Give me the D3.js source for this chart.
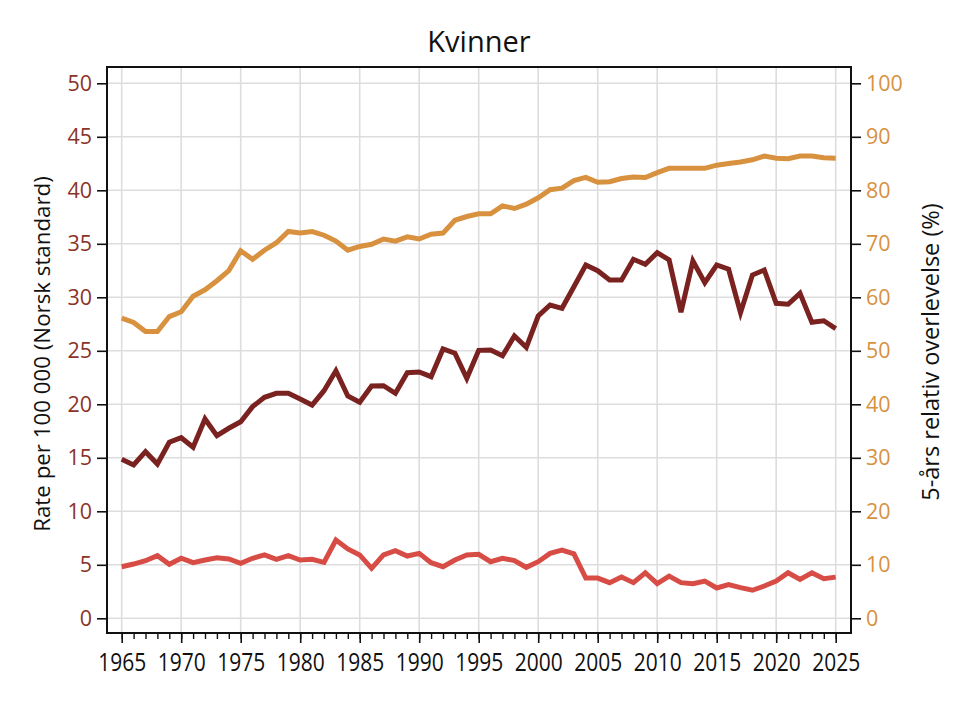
<!DOCTYPE html>
<html><head><meta charset="utf-8">
<script src="https://cdn.jsdelivr.net/npm/d3@7"></script>
<style>
body{margin:0;background:#fff;}
svg{display:block;}
</style></head>
<body><svg id="chart" width="970" height="706"></svg>
<script>
const years = [1965,1966,1967,1968,1969,1970,1971,1972,1973,1974,1975,1976,1977,1978,1979,1980,1981,1982,1983,1984,1985,1986,1987,1988,1989,1990,1991,1992,1993,1994,1995,1996,1997,1998,1999,2000,2001,2002,2003,2004,2005,2006,2007,2008,2009,2010,2011,2012,2013,2014,2015,2016,2017,2018,2019,2020,2021,2022,2023,2024,2025];
const incidence = [14.86,14.33,15.57,14.42,16.45,16.88,15.98,18.63,17.07,17.76,18.37,19.78,20.65,21.03,21.03,20.5,19.93,21.27,23.14,20.78,20.19,21.71,21.74,21.03,22.95,23.02,22.58,25.17,24.77,22.43,25.04,25.07,24.54,26.38,25.33,28.25,29.28,28.97,30.99,33.02,32.49,31.62,31.62,33.55,33.08,34.17,33.49,28.6,33.39,31.36,33.02,32.62,28.56,32.08,32.55,29.44,29.35,30.37,27.66,27.81,27.07];
const mortality = [4.82,5.07,5.38,5.85,5.05,5.61,5.2,5.45,5.66,5.55,5.14,5.61,5.92,5.51,5.85,5.45,5.51,5.23,7.32,6.48,5.92,4.67,5.92,6.32,5.82,6.07,5.2,4.82,5.45,5.92,5.98,5.29,5.61,5.4,4.76,5.29,6.07,6.38,6.02,3.76,3.76,3.33,3.85,3.33,4.26,3.24,3.94,3.33,3.24,3.48,2.83,3.15,2.87,2.62,3.02,3.48,4.26,3.64,4.26,3.7,3.85];
const survival = [56.1,55.3,53.6,53.6,56.4,57.3,60.2,61.4,63.1,65.0,68.7,67.1,68.8,70.2,72.3,72.0,72.3,71.6,70.5,68.8,69.5,69.9,70.9,70.5,71.3,70.9,71.8,72.0,74.4,75.1,75.6,75.6,77.1,76.6,77.4,78.6,80.1,80.4,81.8,82.4,81.5,81.6,82.2,82.5,82.4,83.3,84.1,84.1,84.1,84.1,84.7,85.0,85.3,85.7,86.4,86.0,85.9,86.4,86.4,86.1,86.0];
const xTicks = [1965,1970,1975,1980,1985,1990,1995,2000,2005,2010,2015,2020,2025];
const leftTicks = [0,5,10,15,20,25,30,35,40,45,50];
const rightTicks = [0,10,20,30,40,50,60,70,80,90,100];
const title = "Kvinner";
const leftLabel = "Rate per 100 000 (Norsk standard)";
const rightLabel = "5-års relativ overlevelse (%)";

const svg = d3.select("#chart");
const frame = {l:107, r:851, t:67, b:633};
const x = d3.scaleLinear().domain([1965,2025]).range([121.7,835.7]);
const yL = d3.scaleLinear().domain([0,50]).range([618.3,83.3]);
const yR = d3.scaleLinear().domain([0,100]).range([618.3,83.3]);

const font = "'Open Sans','Noto Sans',sans-serif";
const gridColor = "#dddddd";

// gridlines
const grid = svg.append("g");
grid.selectAll("line.h").data(leftTicks).enter().append("line")
  .attr("x1",frame.l).attr("x2",frame.r)
  .attr("y1",d=>yL(d)).attr("y2",d=>yL(d))
  .attr("stroke",gridColor).attr("stroke-width",1.6);
grid.selectAll("line.v").data(xTicks).enter().append("line")
  .attr("y1",frame.t).attr("y2",frame.b)
  .attr("x1",d=>x(d)).attr("x2",d=>x(d))
  .attr("stroke",gridColor).attr("stroke-width",1.6);

// lines
const series = [
  {vals:survival, scale:yR, color:"#d8913f"},
  {vals:incidence, scale:yL, color:"#7a2220"},
  {vals:mortality, scale:yL, color:"#d84c46"}
];
series.forEach(s=>{
  const line = d3.line().x((d,i)=>x(years[i])).y(d=>s.scale(d));
  svg.append("path").datum(s.vals).attr("d",line)
    .attr("fill","none").attr("stroke",s.color).attr("stroke-width",5)
    .attr("stroke-linejoin","miter").attr("stroke-linecap","butt");
});

// frame
svg.append("rect").attr("x",frame.l).attr("y",frame.t)
  .attr("width",frame.r-frame.l).attr("height",frame.b-frame.t)
  .attr("fill","none").attr("stroke","#111").attr("stroke-width",2);

// left axis
const axL = svg.append("g").attr("transform",`translate(${frame.l},0)`)
  .call(d3.axisLeft(yL).tickValues(leftTicks).tickSize(10).tickPadding(5));
axL.select(".domain").remove();
axL.selectAll("line").attr("stroke","#111").attr("stroke-width",1.6);
axL.selectAll("text").attr("fill","#8a3328").style("font-family",font).style("font-size","21.5px");

// right axis
const axR = svg.append("g").attr("transform",`translate(${frame.r},0)`)
  .call(d3.axisRight(yR).tickValues(rightTicks).tickSize(10).tickPadding(5));
axR.select(".domain").remove();
axR.selectAll("line").attr("stroke","#111").attr("stroke-width",1.6);
axR.selectAll("text").attr("fill","#d8913f").style("font-family",font).style("font-size","21.5px");

// bottom axis: minor ticks
const axBm = svg.append("g").attr("transform",`translate(0,${frame.b})`)
  .call(d3.axisBottom(x).tickValues(years).tickSize(6).tickFormat(""));
axBm.select(".domain").remove();
axBm.selectAll("line").attr("stroke","#111").attr("stroke-width",1.4);
const axB = svg.append("g").attr("transform",`translate(0,${frame.b})`)
  .call(d3.axisBottom(x).tickValues(xTicks).tickSize(10).tickPadding(10).tickFormat(d3.format("d")));
axB.select(".domain").remove();
axB.selectAll("line").attr("stroke","#111").attr("stroke-width",1.6);
axB.selectAll("text").attr("fill","#111").style("font-family",font).style("font-size","25px")
  .attr("textLength",48).attr("lengthAdjust","spacingAndGlyphs");

// title
svg.append("text").attr("x",(frame.l+frame.r)/2).attr("y",52)
  .attr("text-anchor","middle").style("font-family",font).style("font-size","29px")
  .attr("fill","#111").text(title);

// axis titles
svg.append("text").attr("transform","translate(50,354) rotate(-90)")
  .attr("text-anchor","middle").style("font-family",font).style("font-size","22.3px")
  .attr("fill","#111").text(leftLabel);
svg.append("text").attr("transform","translate(939,352) rotate(-90)")
  .attr("text-anchor","middle").style("font-family",font).style("font-size","23.5px")
  .attr("fill","#111").text(rightLabel);
</script></body></html>
